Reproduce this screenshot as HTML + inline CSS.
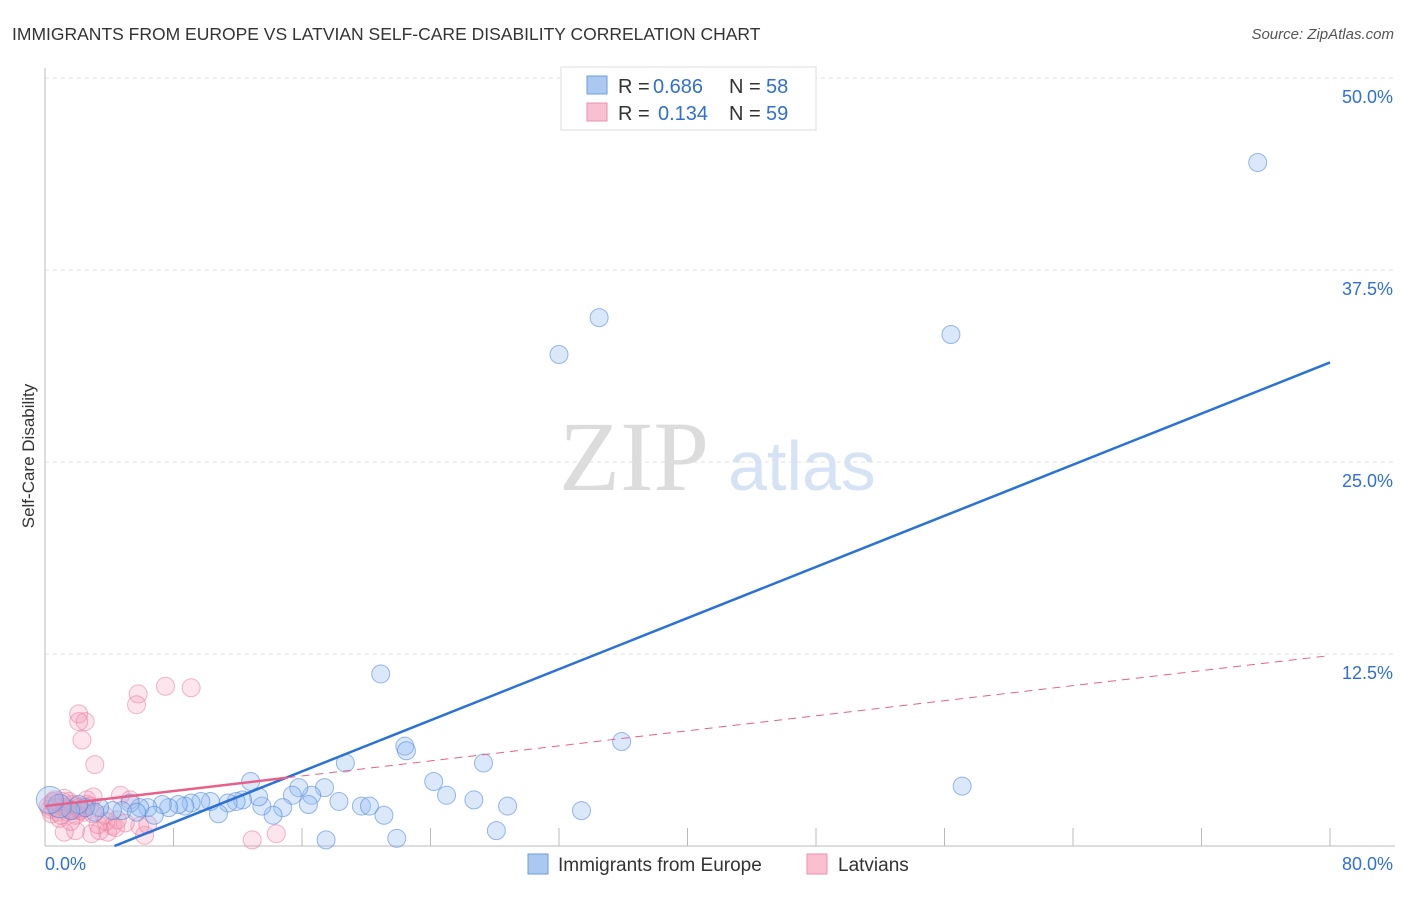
<!DOCTYPE html>
<html><head><meta charset="utf-8"><style>
body{margin:0;background:#fff;font-family:"Liberation Sans",sans-serif}
svg text{font-family:"Liberation Sans",sans-serif}
</style></head><body>
<svg id="chart" width="1406" height="892" viewBox="0 0 1406 892">
<text x="12" y="40" font-size="17.5" fill="#333">IMMIGRANTS FROM EUROPE VS LATVIAN SELF-CARE DISABILITY CORRELATION CHART</text>
<text x="1394" y="39" font-size="15" fill="#555" font-style="italic" text-anchor="end">Source: ZipAtlas.com</text>
<g>
<text x="634" y="490" font-size="100" fill="#dcdcdc" style="font-family:'Liberation Serif',serif" text-anchor="middle">ZIP</text>
<text x="802" y="490" font-size="70" fill="#d5e3f5" text-anchor="middle">atlas</text>
</g>
<g id="grid"></g>
<g id="marks"></g>
<text transform="translate(34,456) rotate(-90)" font-size="17" fill="#333" text-anchor="middle">Self-Care Disability</text>
<g>
<rect x="561" y="67" width="255" height="63" fill="#fff" stroke="#ddd"/>
<rect x="587" y="76" width="20" height="18" fill="#aac8f0" stroke="#6a9ee0"/>
<rect x="587" y="103" width="20" height="18" fill="#f8c0d0" stroke="#f090b0"/>
<text x="618" y="93" font-size="20" fill="#333">R =</text>
<text x="653" y="93" font-size="20" fill="#2f6fd6">0.686</text>
<text x="729" y="93" font-size="20" fill="#333">N =</text>
<text x="766" y="93" font-size="20" fill="#2f6fd6">58</text>
<text x="618" y="120" font-size="20" fill="#333">R =</text>
<text x="658" y="120" font-size="20" fill="#2f6fd6">0.134</text>
<text x="729" y="120" font-size="20" fill="#333">N =</text>
<text x="766" y="120" font-size="20" fill="#2f6fd6">59</text>
</g>
<g>
<rect x="528" y="854" width="20" height="20" fill="#aac8f0" stroke="#6a9ee0"/>
<text x="558" y="871" font-size="19" fill="#333">Immigrants from Europe</text>
<rect x="807" y="854" width="20" height="20" fill="#f8c0d0" stroke="#f090b0"/>
<text x="838" y="871" font-size="19" fill="#333">Latvians</text>
</g>
</svg>
<script>
const yTicks=[12.5,25,37.5,50];
const yTickLabels=["12.5%","25.0%","37.5%","50.0%"];
const xTickVals=[8,16,24,32,40,48,56,64,72,80];
const xEndLabels=["0.0%","80.0%"];
const blueX=[75.5,34.5,32.0,56.4,20.9,35.9,22.4,22.5,18.7,27.3,57.1,12.8,24.2,25,26.7,28.8,33.4,28.1,21.9,17.5,21.1,19.7,20.2,18.3,17.4,16.6,15.8,15.4,16.4,14.8,14.2,13.5,13.3,12.3,11.9,11.4,10.8,10.3,9.7,9.1,8.7,8.3,7.7,7.3,6.4,5.9,5.3,4.8,4.2,3.4,3.1,2.5,2.1,1.6,0.9,0.3,6.8,5.7];
const blueY=[44.5,34.4,32.0,33.3,11.2,6.8,6.5,6.2,5.4,5.4,3.9,4.2,4.2,3.3,3.0,2.6,2.3,1.0,0.5,0.4,2.0,2.6,2.6,2.9,3.8,3.3,3.8,3.3,2.7,2.5,2.0,2.6,3.2,3.0,2.9,2.8,2.1,2.9,2.9,2.8,2.6,2.7,2.5,2.7,2.5,2.5,2.8,2.3,2.3,2.5,2.2,2.5,2.7,2.3,2.6,3.0,2.0,2.2];
const pinkX=[7.5,9.1,5.8,5.7,2.1,2.5,2.1,2.3,3.1,3.0,4.7,5.3,3.9,6.2,12.9,14.4,5.9,4.2,3.4,2.9,1.9,1.2,6.4,4.5,3.7,0.3,0.5,0.8,1.0,1.3,1.5,1.8,2.0,2.3,2.6,0.4,0.7,1.1,1.4,1.7,2.1,0.6,1.2,1.9,2.4,2.8,0.9,1.6,3.3,3.8,4.4,5.0,2.6,1.0,0.2,1.5,2.2,0.5,3.0];
const pinkY=[10.4,10.3,9.9,9.2,8.6,8.1,8.1,6.9,5.3,3.2,3.3,3.0,0.9,0.7,0.4,0.8,1.3,1.3,1.0,0.8,1.0,0.9,1.4,1.7,2.0,2.4,2.8,2.2,2.6,2.5,2.9,2.3,2.6,2.4,2.7,2.1,2.5,2.9,2.2,2.7,2.5,3.0,3.1,2.0,2.2,2.6,1.8,1.6,1.4,1.6,1.2,1.5,3.0,2.0,2.6,2.4,2.3,2.9,2.1];
const blueSize=[1,1,1,1,1,1,1,1,1,1,1,1,1,1,1,1,1,1,1,1,1,1,1,1,1,1,1,1,1,1,1,1,1,1,1,1,1,1,1,1,1,1,1,1,1,1,1,1,1,1,1,1,1,1,1.3,1.5,1,1];
const blueFit=[-1.8,0.416];
const pinkFit=[2.6,0.1225];
const pinkSolidEnd=15.1;

const X=v=>45+v*(1285/80), Y=v=>846-v*15.36;
const NS="http://www.w3.org/2000/svg";
const grid=document.getElementById('grid'), marks=document.getElementById('marks');
function el(tag,attrs,parent){const e=document.createElementNS(NS,tag);for(const k in attrs)e.setAttribute(k,attrs[k]);parent.appendChild(e);return e;}
yTicks.forEach((t,i)=>{
 const g=el('line',{x1:45,x2:1395,y1:Y(t),y2:Y(t),stroke:'#e2e2e2','stroke-dasharray':'4,4'},grid);
 
 
 const tx=el('text',{x:1393,y:Y(t)+25,'font-size':18,fill:'#2f6fd6','text-anchor':'end'},grid);
 tx.textContent=yTickLabels[i];
 
 
});
const ax=el('line',{x1:45,x2:45,y1:68,y2:846,stroke:'#bbb'},grid);


const bx=el('line',{x1:45,x2:1395,y1:846,y2:846,stroke:'#bbb'},grid);


xTickVals.forEach(t=>{
 const l=el('line',{x1:X(t),x2:X(t),y1:828,y2:846,stroke:'#bbb'},grid);
 
 
});
[[0,'start',45],[80,'end',1393]].forEach((a,i)=>{
 const tx=el('text',{x:a[2],y:870,'font-size':18,fill:'#2f6fd6','text-anchor':a[1]},grid);
 tx.textContent=xEndLabels[i];
 
 
});
pinkX.forEach((x,i)=>{
 const c=el('circle',{cx:X(x),cy:Y(pinkY[i]),r:9,fill:'rgba(245,150,180,0.25)',stroke:'rgba(235,110,150,0.5)'},marks);
 
 
});
blueX.forEach((x,i)=>{
 const c=el('circle',{cx:X(x),cy:Y(blueY[i]),r:9*blueSize[i],fill:'rgba(150,190,240,0.35)',stroke:'rgba(70,130,220,0.55)'},marks);
 
 
});
const x0=-blueFit[0]/blueFit[1];
const bl=el('line',{x1:X(x0),y1:Y(0),x2:X(80),y2:Y(blueFit[0]+blueFit[1]*80),stroke:'#2a72d8','stroke-width':2.5},marks);


const pl=el('line',{x1:X(0),y1:Y(pinkFit[0]),x2:X(pinkSolidEnd),y2:Y(pinkFit[0]+pinkFit[1]*pinkSolidEnd),stroke:'#e8608a','stroke-width':2.5},marks);


const pd=el('line',{x1:X(pinkSolidEnd),y1:Y(pinkFit[0]+pinkFit[1]*pinkSolidEnd),x2:X(80),y2:Y(pinkFit[0]+pinkFit[1]*80),stroke:'#e8608a','stroke-width':1,'stroke-dasharray':'8,6'},marks);


</script>
</body></html>
